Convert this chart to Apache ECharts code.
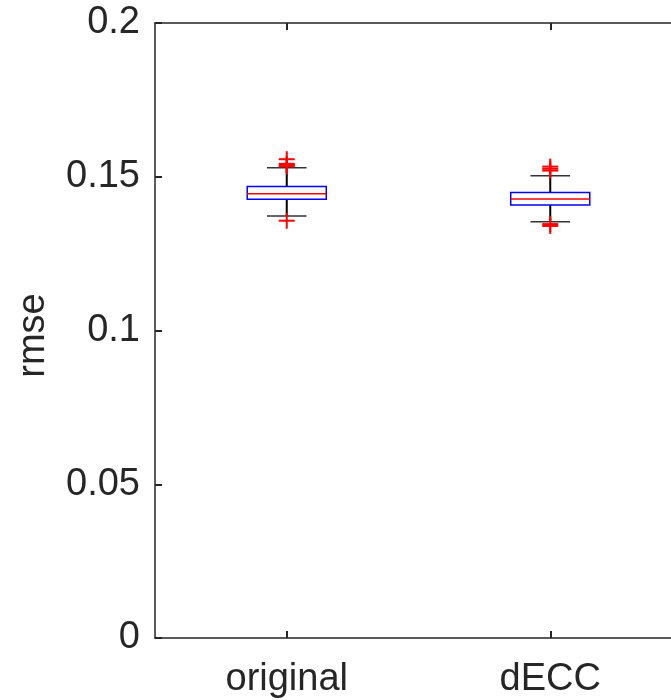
<!DOCTYPE html>
<html>
<head>
<meta charset="utf-8">
<script src="https://cdn.jsdelivr.net/npm/echarts@6/dist/echarts.min.js"></script>
<style>html,body{margin:0;padding:0;background:#fff;overflow:hidden;width:671px;height:700px;}#c{width:682px;height:700px;}</style>
</head>
<body>
<div id="c"></div>
<script>
var categories = ['original', 'dECC'];
var lowerWhisker = [0.1372, 0.1354];
var q1 = [0.1427, 0.1408];
var median = [0.1445, 0.1428];
var q3 = [0.1468, 0.1449];
var upperWhisker = [0.1529, 0.1503];
var outliers = [
  [0.1557, 0.1542, 0.1538, 0.1534, 0.1357],
  [0.1533, 0.1526, 0.1520, 0.1346, 0.1340]
];
var yTicks = [0, 0.05, 0.1, 0.15, 0.2];

var boxData = categories.map(function (c, i) {
  return [i, lowerWhisker[i], q1[i], median[i], q3[i], upperWhisker[i]];
});
var outData = [];
outliers.forEach(function (arr, i) {
  arr.forEach(function (v) { outData.push([i, v]); });
});

var FONT = '"Liberation Sans", Arial, Helvetica, sans-serif';
var TXT = '#262626';

var chart = echarts.init(document.getElementById('c'), null, {renderer: 'canvas'});
chart.setOption({
  animation: false,
  backgroundColor: '#fff',
  grid: {left: 155, top: 23, bottom: 62, right: 0, containLabel: false},
  xAxis: [{
    type: 'category',
    data: categories,
    boundaryGap: true,
    position: 'bottom',
    axisLine: {show: true, lineStyle: {color: TXT, width: 1.5}},
    axisTick: {show: true, inside: true, alignWithLabel: true, length: 7, lineStyle: {color: TXT, width: 2}},
    axisLabel: {color: TXT, fontSize: 38, fontFamily: FONT, margin: 23},
    splitLine: {show: false}
  }, {
    type: 'category',
    data: categories,
    boundaryGap: true,
    position: 'top',
    axisLine: {show: true, lineStyle: {color: TXT, width: 1.5}},
    axisTick: {show: true, inside: true, alignWithLabel: true, length: 7, lineStyle: {color: TXT, width: 2}},
    axisLabel: {show: false},
    splitLine: {show: false}
  }],
  yAxis: [{
    type: 'value',
    min: 0,
    max: 0.2,
    interval: 0.05,
    name: 'rmse',
    nameLocation: 'middle',
    nameGap: 102,
    nameTextStyle: {color: TXT, fontSize: 38, fontFamily: FONT, padding: [0, 10, 0, 0]},
    axisLine: {show: true, lineStyle: {color: TXT, width: 1.5}},
    axisTick: {show: true, inside: true, length: 7, lineStyle: {color: TXT, width: 2}},
    axisLabel: {
      color: TXT, fontSize: 38, fontFamily: FONT, margin: 15,
      formatter: function (v) {
        for (var k = 0; k < yTicks.length; k++) {
          if (Math.abs(yTicks[k] - v) < 1e-9) return String(yTicks[k]);
        }
        return '';
      }
    },
    splitLine: {show: false}
  }],
  series: [{
    type: 'custom',
    xAxisIndex: 0,
    yAxisIndex: 0,
    data: boxData,
    renderItem: function (params, api) {
      var idx = api.value(0);
      var band = api.size([1, 0])[0];
      var hw = band * 0.15;
      var cw = band * 0.075;
      var pLo = api.coord([idx, api.value(1)]);
      var pQ1 = api.coord([idx, api.value(2)]);
      var pMed = api.coord([idx, api.value(3)]);
      var pQ3 = api.coord([idx, api.value(4)]);
      var pHi = api.coord([idx, api.value(5)]);
      var x = pLo[0];
      return {
        type: 'group',
        children: [
          {type: 'line', shape: {x1: x, y1: pQ3[1], x2: x, y2: pHi[1]}, style: {stroke: '#000', lineWidth: 2}},
          {type: 'line', shape: {x1: x, y1: pQ1[1], x2: x, y2: pLo[1]}, style: {stroke: '#000', lineWidth: 2}},
          {type: 'line', shape: {x1: x - cw, y1: pHi[1], x2: x + cw, y2: pHi[1]}, style: {stroke: '#333', lineWidth: 1.5}},
          {type: 'line', shape: {x1: x - cw, y1: pLo[1], x2: x + cw, y2: pLo[1]}, style: {stroke: '#333', lineWidth: 1.5}},
          {type: 'rect', shape: {x: x - hw, y: pQ3[1], width: 2 * hw, height: pQ1[1] - pQ3[1]}, style: {fill: 'none', stroke: '#0000ff', lineWidth: 1.5}},
          {type: 'line', shape: {x1: x - hw, y1: pMed[1], x2: x + hw, y2: pMed[1]}, style: {stroke: '#ff0000', lineWidth: 1.5}}
        ]
      };
    }
  }, {
    type: 'custom',
    xAxisIndex: 0,
    yAxisIndex: 0,
    data: outData,
    renderItem: function (params, api) {
      var p = api.coord([api.value(0), api.value(1)]);
      var s = 8;
      return {
        type: 'group',
        children: [
          {type: 'line', shape: {x1: p[0] - s, y1: p[1], x2: p[0] + s, y2: p[1]}, style: {stroke: '#ff0000', lineWidth: 2}},
          {type: 'line', shape: {x1: p[0], y1: p[1] - s, x2: p[0], y2: p[1] + s}, style: {stroke: '#ff0000', lineWidth: 2}}
        ]
      };
    }
  }]
});
</script>
</body>
</html>
